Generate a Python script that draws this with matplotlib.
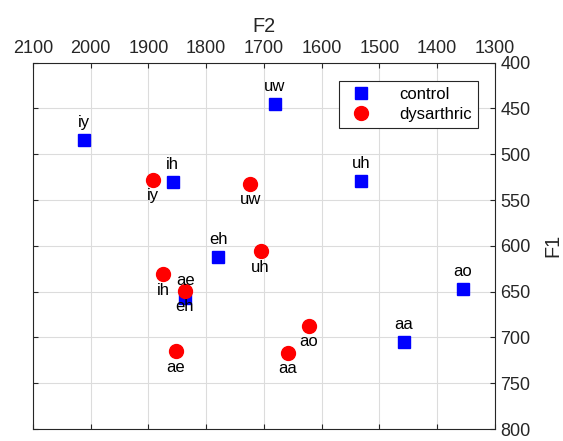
import matplotlib.pyplot as plt
import numpy as np

plt.rcParams['font.family'] = ['Liberation Sans', 'DejaVu Sans']

# vowel formants (Hz)
vowels_ctrl = ['iy', 'uw', 'ih', 'uh', 'eh', 'ae', 'aa', 'ao']
f2_ctrl = [2011, 1681, 1858, 1532, 1779, 1836, 1458, 1356]
f1_ctrl = [484, 445, 530, 529, 612, 657, 705, 647]

vowels_dys = ['iy', 'uw', 'uh', 'ih', 'eh', 'ae', 'aa', 'ao']
f2_dys = [1893, 1724, 1706, 1875, 1837, 1853, 1659, 1622]
f1_dys = [528, 532, 606, 631, 649, 715, 717, 687]

fig = plt.figure(figsize=(5.63, 4.41), dpi=100)
ax = fig.add_axes([0.0586, 0.027, 0.8206, 0.831])

ax.plot(f2_ctrl, f1_ctrl, 's', color='blue', markersize=8.3, label='control', zorder=3)
ax.plot(f2_dys, f1_dys, 'o', color='red', markersize=10, label='dysarthric', zorder=3)

for v, x, y in zip(vowels_ctrl, f2_ctrl, f1_ctrl):
    ax.annotate(v, (x, y), xytext=(0, 7), textcoords='offset points',
                ha='center', va='bottom', fontsize=12)
for v, x, y in zip(vowels_dys, f2_dys, f1_dys):
    ax.annotate(v, (x, y), xytext=(0, -6), textcoords='offset points',
                ha='center', va='top', fontsize=12)

ax.set_xlim(2100, 1300)
ax.set_ylim(800, 400)
ax.set_xticks(np.arange(2100, 1299, -100))
ax.set_yticks(np.arange(400, 801, 50))

ax.xaxis.set_label_position('top')
ax.yaxis.set_label_position('right')
ax.tick_params(axis='both', direction='in', labelsize=13, length=3.5, width=0.8,
               top=True, bottom=True, left=True, right=True,
               labeltop=True, labelbottom=False, labelleft=False, labelright=True,
               color='#262626', labelcolor='#262626', pad=4)
ax.set_xlabel('F2', fontsize=14.3, color='#262626', labelpad=6)
ax.set_ylabel('F1', fontsize=14.3, color='#262626', labelpad=9)

ax.grid(True, color='#dcdcdc', linewidth=0.8)
ax.set_axisbelow(True)
for s in ax.spines.values():
    s.set_color('#262626')
    s.set_linewidth(0.8)

leg = ax.legend(loc='upper right', bbox_to_anchor=(0.963, 0.9495), borderaxespad=0,
                fontsize=12, fancybox=False, framealpha=1, edgecolor='#262626',
                handletextpad=1.3, borderpad=0.35, labelspacing=0.3)
leg.get_frame().set_linewidth(0.8)

fig.savefig('out.png', dpi=100)
